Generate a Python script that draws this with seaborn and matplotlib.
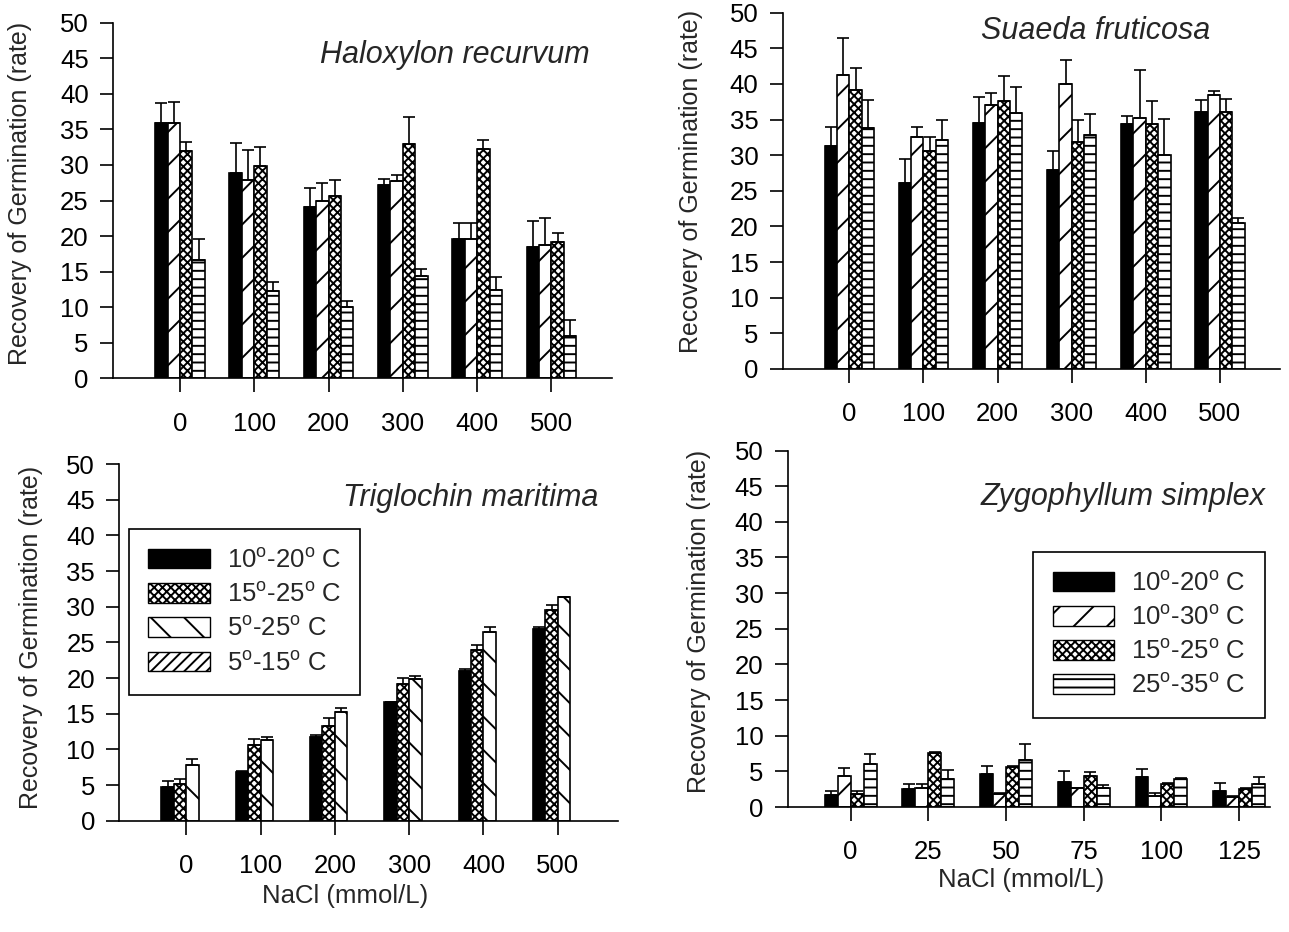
import numpy as np
import pandas as pd
import matplotlib
matplotlib.use("Agg")
import matplotlib.pyplot as plt
from matplotlib.patches import Patch
import seaborn as sns

# x categories (NaCl, mmol/L)
nacl_main = ["0", "100", "200", "300", "400", "500"]
nacl_zygo = ["0", "25", "50", "75", "100", "125"]

# temperature regimes
T10_20 = r"10$^\mathrm{o}$-20$^\mathrm{o}$ C"
T10_30 = r"10$^\mathrm{o}$-30$^\mathrm{o}$ C"
T15_25 = r"15$^\mathrm{o}$-25$^\mathrm{o}$ C"
T25_35 = r"25$^\mathrm{o}$-35$^\mathrm{o}$ C"
T5_25 = r"5$^\mathrm{o}$-25$^\mathrm{o}$ C"
T5_15 = r"5$^\mathrm{o}$-15$^\mathrm{o}$ C"

# Haloxylon recurvum
halo_regimes = [T10_20, T10_30, T15_25, T25_35]
halo_vals = [
    [35.9, 28.9, 24.1, 27.2, 19.6, 18.4],
    [35.9, 27.9, 25.0, 27.7, 19.6, 18.7],
    [31.9, 29.9, 25.6, 32.9, 32.3, 19.2],
    [16.7, 12.3, 10.0, 14.4, 12.4, 6.0],
]
halo_se = [
    [2.8, 4.2, 2.6, 0.8, 2.3, 3.7],
    [3.0, 4.2, 2.5, 0.9, 2.3, 3.9],
    [1.3, 2.6, 2.3, 3.9, 1.2, 1.2],
    [2.9, 1.2, 0.8, 0.9, 1.8, 2.2],
]

# Suaeda fruticosa
suaeda_regimes = [T10_20, T10_30, T15_25, T25_35]
suaeda_vals = [
    [31.3, 26.1, 34.5, 27.9, 34.4, 36.0],
    [41.3, 32.6, 37.1, 40.0, 35.2, 38.4],
    [39.1, 30.6, 37.6, 31.8, 34.4, 36.0],
    [33.8, 32.1, 35.9, 32.8, 30.0, 20.5],
]
suaeda_se = [
    [2.6, 3.3, 3.7, 2.7, 1.1, 1.8],
    [5.2, 1.3, 1.6, 3.4, 6.8, 0.6],
    [3.1, 2.0, 3.5, 3.1, 3.2, 1.9],
    [4.0, 2.9, 3.7, 3.0, 5.1, 0.7],
]

# Triglochin maritima (no bars for 5-15)
trig_regimes = [T10_20, T15_25, T5_25, T5_15]
trig_vals = [
    [4.7, 6.8, 11.7, 16.6, 21.0, 26.9],
    [5.2, 10.6, 13.3, 19.1, 23.9, 29.6],
    [7.8, 11.3, 15.3, 19.9, 26.5, 31.3],
    [np.nan] * 6,
]
trig_se = [
    [0.8, 0.1, 0.3, 0.0, 0.2, 0.3],
    [0.7, 0.8, 1.1, 0.9, 0.8, 0.7],
    [0.8, 0.4, 0.5, 0.4, 0.6, 0.1],
    [np.nan] * 6,
]

# Zygophyllum simplex
zygo_regimes = [T10_20, T10_30, T15_25, T25_35]
zygo_vals = [
    [1.65, 2.5, 4.7, 3.5, 4.2, 2.3],
    [4.4, 2.7, 1.8, 2.6, 1.6, 1.4],
    [1.8, 7.6, 5.6, 4.3, 3.2, 2.5],
    [6.1, 3.9, 6.6, 2.6, 3.9, 3.2],
]
zygo_se = [
    [0.65, 0.7, 1.1, 1.6, 1.1, 1.0],
    [1.1, 0.5, 0.1, 0.1, 0.3, 0.2],
    [0.5, 0.1, 0.1, 0.6, 0.1, 0.1],
    [1.4, 1.3, 2.2, 0.5, 0.2, 1.0],
]

# fill / hatch for each regime
STYLE = {
    T10_20: ("black", None),
    T10_30: ("white", "/"),
    T15_25: ("white", "xxxx"),
    T25_35: ("white", "--"),
    T5_25: ("white", "\\"),
    T5_15: ("white", "///"),
}

sns.set_style("ticks")
plt.rcParams["font.family"] = ["Liberation Sans", "DejaVu Sans"]
plt.rcParams["mathtext.fontset"] = "custom"
plt.rcParams["mathtext.rm"] = "Liberation Sans"
plt.rcParams["mathtext.it"] = "Liberation Sans:italic"
plt.rcParams["hatch.linewidth"] = 1.4
plt.rcParams["hatch.color"] = "black"

FS = 18.5
LW = 1.2
YLAB = "Recovery of Germination (rate)"


def draw_panel(ax, cats, regimes, vals, ses, title, title_xy, xlim,
               ylab_xy, xlab_xy=None, legend_xy=None):
    rows = []
    for reg, v in zip(regimes, vals):
        for c, val in zip(cats, v):
            rows.append({"NaCl": c, "rate": val, "regime": reg})
    df = pd.DataFrame(rows)

    sns.barplot(data=df, x="NaCl", y="rate", hue="regime", order=cats,
                hue_order=regimes, palette=["white"] * len(regimes),
                width=0.667, errorbar=None, saturation=1, legend=False,
                edgecolor="black", linewidth=LW, ax=ax)

    # style the bars of each regime and add one-sided error bars
    present = [i for i, v in enumerate(vals) if np.isfinite(v).any()]
    conts = [c for c in ax.containers if len(c) > 0]
    for i, cont in zip(present, conts):
        face, hatch = STYLE[regimes[i]]
        xs, ys = [], []
        for p in cont:
            p.set_facecolor(face)
            p.set_edgecolor("black")
            if hatch:
                p.set_hatch(hatch)
            xs.append(p.get_x() + p.get_width() / 2)
            ys.append(p.get_height())
        err = np.array(ses[i])
        ax.errorbar(xs, ys, yerr=[np.zeros_like(err), err], fmt="none",
                    ecolor="black", elinewidth=LW, capsize=4.5,
                    capthick=LW, zorder=1)

    ax.set_ylim(0, 50)
    ax.set_yticks(range(0, 51, 5))
    ax.set_xlim(*xlim)
    sns.despine(ax=ax)
    for s in ("left", "bottom"):
        ax.spines[s].set_linewidth(LW)
        ax.spines[s].set_color("black")
    ax.tick_params(axis="y", length=9.5, width=LW, pad=8, labelsize=FS,
                   colors="black")
    ax.tick_params(axis="x", length=10, width=LW, pad=14, labelsize=FS,
                   colors="black")

    ax.set_ylabel(YLAB, fontsize=18)
    ax.yaxis.set_label_coords(*ylab_xy)
    if xlab_xy is not None:
        ax.set_xlabel("NaCl (mmol/L)", fontsize=FS)
        ax.xaxis.set_label_coords(*xlab_xy)
    else:
        ax.set_xlabel("")

    ax.text(title_xy[0], title_xy[1], title, transform=ax.transAxes,
            ha="right", va="center", style="italic", fontsize=22)

    if legend_xy is not None:
        handles = [Patch(facecolor=STYLE[r][0], edgecolor="black",
                         hatch=STYLE[r][1], label=r) for r in regimes]
        leg = ax.legend(handles=handles, loc="upper left",
                        bbox_to_anchor=legend_xy, borderaxespad=0,
                        fontsize=FS, frameon=True, fancybox=False,
                        framealpha=1, edgecolor="black",
                        handlelength=2.4, handleheight=0.8,
                        handletextpad=0.65, labelspacing=0.4,
                        borderpad=0.75)
        leg.get_frame().set_linewidth(LW)


fig = plt.figure(figsize=(12.89, 9.32), dpi=100)
ax1 = fig.add_axes([0.0877, 0.5941, 0.3868, 0.3815])
ax2 = fig.add_axes([0.6072, 0.6041, 0.3858, 0.3823])
ax3 = fig.add_axes([0.0926, 0.1194, 0.3868, 0.3827])
ax4 = fig.add_axes([0.6111, 0.1341, 0.3743, 0.3825])

draw_panel(ax1, nacl_main, halo_regimes, halo_vals, halo_se,
           "Haloxylon recurvum", (0.956, 0.91), (-0.9, 5.81),
           (-0.162, 0.52))
draw_panel(ax2, nacl_main, suaeda_regimes, suaeda_vals, suaeda_se,
           "Suaeda fruticosa", (0.859, 0.948), (-0.9, 5.81),
           (-0.16, 0.525))
draw_panel(ax3, nacl_main, trig_regimes, trig_vals, trig_se,
           "Triglochin maritima", (0.96, 0.905), (-0.9, 5.81),
           (-0.153, 0.513), xlab_xy=(0.453, -0.178),
           legend_xy=(0.0195, 0.817))
draw_panel(ax4, nacl_zygo, zygo_regimes, zygo_vals, zygo_se,
           "Zygophyllum simplex", (0.99, 0.87), (-0.81, 5.4),
           (-0.159, 0.52), xlab_xy=(0.484, -0.171),
           legend_xy=(0.509, 0.715))

fig.savefig("out.png", dpi=100, facecolor="white")
